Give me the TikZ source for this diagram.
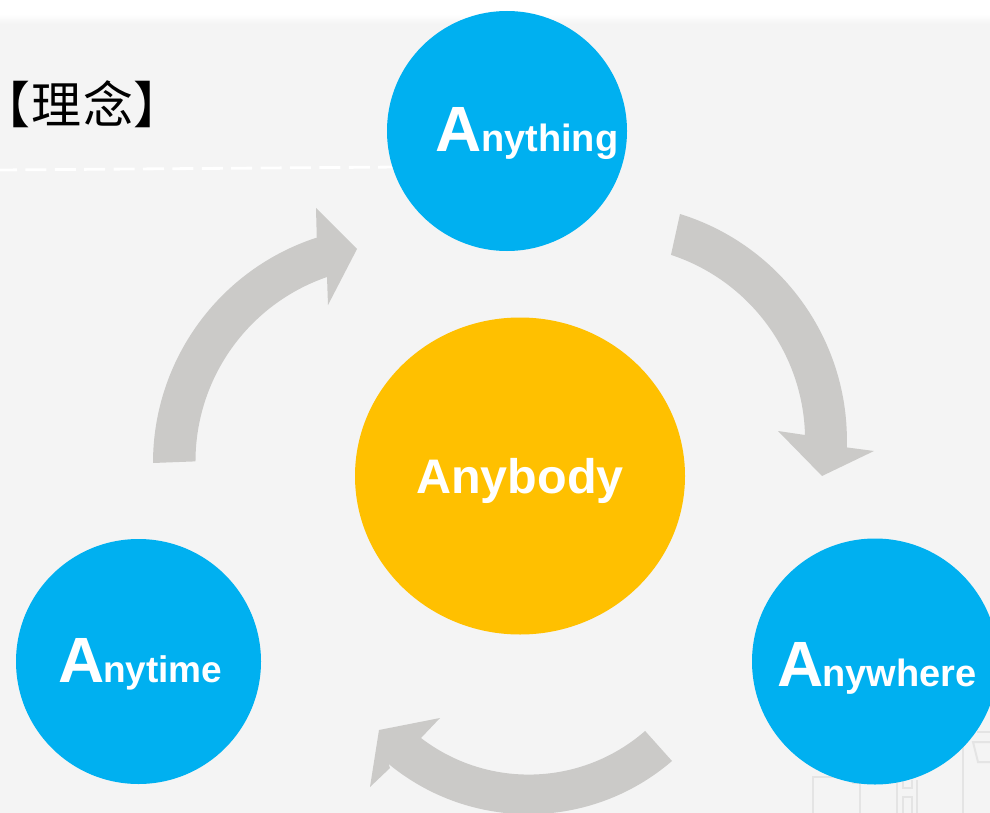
\documentclass[tikz,border=0pt]{standalone}
\usepackage{fontspec}
\setmainfont{Liberation Sans}
\newfontfamily\cjkfont[RawFeature=+palt, LetterSpace=4]{Noto Sans CJK SC}
\usepackage{xcolor}
\usetikzlibrary{positioning, shapes.geometric}
\definecolor{skyblue}{HTML}{00B0F0}
\definecolor{amber}{HTML}{FFC000}
\definecolor{panelgray}{HTML}{F4F4F4}
\definecolor{arrowgray}{HTML}{CBCAC8}
\definecolor{sketchgray}{HTML}{E4E4E4}

\begin{document}
\begin{tikzpicture}[x=1pt,y=-1pt]
                \tikzset{bluedisc/.style = {circle, fill=skyblue, minimum size=245pt, inner sep=0pt}}
                \tikzset{bigcap/.style = {white, inner sep=0pt, anchor=base west, font=\bfseries\fontsize{64}{64}\selectfont}}
                \tikzset{restcap/.style = {white, inner sep=0pt, anchor=base west, font=\bfseries\fontsize{38}{38}\selectfont}}
                \tikzset{bigarrow/.style = {fill=arrowgray, draw=none}}
                \tikzset{sketch/.style = {draw=sketchgray, line width=2pt}}

                \useasboundingbox (0,0) rectangle (990,813);
                \clip (0,0) rectangle (990,813);

                % panel
                \fill[panelgray] (0,24) rectangle (990,813);
                \shade[top color=white, bottom color=panelgray] (0,14) rectangle (990,24);
                \draw[white, line width=2.8pt, dash pattern=on 21pt off 8.4pt, dash phase=4pt] (0,170) -- (400,167);

                % faint sketch in the corner
                \draw[sketch] (813,813) -- (813,777) -- (840,777);
                \draw[sketch] (852,783) -- (860,783) -- (860,813);
                \draw[sketch] (897,813) -- (897,780) (917,780) -- (917,813);
                \draw[sketch] (903,813) -- (903,797) -- (912,797) -- (912,813);
                \draw[sketch] (903,780) -- (903,788) -- (912,788) -- (912,780);
                \draw[sketch] (963,813) -- (963,745);
                \draw[sketch] (977,732) -- (990,732);
                \draw[sketch] (990,742) -- (973,742) -- (978,762) -- (990,762);

                % arrows
                \path[bigarrow] (680,214) arc[start angle=72.8, end angle=-1.7, radius=237pt]
                    -- (874,451) -- (822,476) -- (778,431) -- (805,435)
                    arc[start angle=1.5, end angle=71.8, radius=195pt] -- cycle;
                \path[bigarrow] (672,761) arc[start angle=-49.3, end angle=-129.5, radius=220pt]
                    -- (390,768) -- (370,787) -- (379,730) -- (440,718) -- (421,738)
                    arc[start angle=-127.5, end angle=-48.9, radius=177pt] -- cycle;
                \path[bigarrow] (153,463) arc[start angle=180, end angle=108, radius=237pt]
                    -- (316,208) -- (357,249) -- (328,305) -- (327,277)
                    arc[start angle=109, end angle=180, radius=195pt] -- cycle;

                % discs
                \node[bluedisc, minimum size=240pt] (anything) at (507,131) {};
                \node[bluedisc] (anytime) at (138.5,661.5) {};
                \node[bluedisc, minimum size=246pt] (anywhere) at (875,661.5) {};
                \node[ellipse, fill=amber, minimum width=330pt, minimum height=317pt, inner sep=0pt] (anybody) at (520,476) {};

                % labels
                \node[bigcap] (anythingA) at (435,152) {A};
                \node[restcap] (anythingB) at (481,152) {nything};
                \node[bigcap] (anytimeA) at (58,682) {A};
                \node[restcap, font=\bfseries\fontsize{37}{37}\selectfont] (anytimeB) at (103,682) {nytime};
                \node[bigcap] (anywhereA) at (777,686) {A};
                \node[restcap] (anywhereB) at (822,686) {nywhere};
                \node[white, inner sep=0pt, anchor=base, font=\bfseries\fontsize{48.5}{48.5}\selectfont] (anybodyT) at (520,493) {Anybody};
                \node[inner sep=0pt, anchor=base west, font=\cjkfont\fontsize{50}{50}\selectfont] (idea) at (4,124) {【理念】};
\end{tikzpicture}
\end{document}
